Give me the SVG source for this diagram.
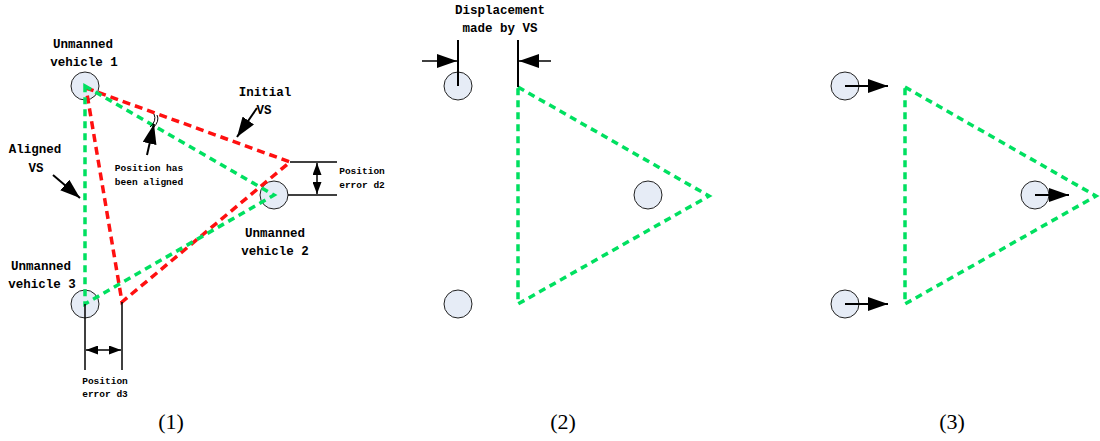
<svg xmlns="http://www.w3.org/2000/svg" width="1100" height="441" viewBox="0 0 1100 441">
<style>
.veh{fill:#e6ecf6;stroke:#222;stroke-width:1}
.g{fill:none;stroke:#00e060;stroke-width:3.5;stroke-dasharray:7 5}
.r{fill:none;stroke:#ff1010;stroke-width:3.5;stroke-dasharray:8 5}
.ln{fill:none;stroke:#000;stroke-width:1.5}
.aw{fill:none;stroke:#000;stroke-width:2}
.t{font-family:"Liberation Mono","DejaVu Sans Mono",monospace;font-weight:bold;font-size:12.5px;fill:#000;text-anchor:middle}
.s{font-family:"Liberation Mono","DejaVu Sans Mono",monospace;font-weight:bold;font-size:9.5px;fill:#000;text-anchor:middle}
.n{font-family:"Liberation Serif","DejaVu Serif",serif;font-size:22px;fill:#000;text-anchor:middle}
</style>
<defs>
<marker id="big" viewBox="0 0 20 14" refX="20" refY="7" markerWidth="20" markerHeight="14" markerUnits="userSpaceOnUse" orient="auto-start-reverse"><path d="M0,0 L20,7 L0,14 z" fill="#000"/></marker>
<marker id="sm" viewBox="0 0 12 9" refX="12" refY="4.5" markerWidth="12" markerHeight="9" markerUnits="userSpaceOnUse" orient="auto-start-reverse"><path d="M0,0 L12,4.5 L0,9 z" fill="#000"/></marker>
</defs>

<!-- Panel 1 vehicles -->
<g id="p1-vehicle1"><circle class="veh" cx="85" cy="86" r="14"/><text class="t" x="83" y="48">Unmanned</text><text class="t" x="84" y="66">vehicle 1</text></g>
<g id="p1-vehicle2"><circle class="veh" cx="274" cy="195" r="14"/><text class="t" x="275" y="237">Unmanned</text><text class="t" x="275" y="255">vehicle 2</text></g>
<g id="p1-vehicle3"><circle class="veh" cx="85" cy="304" r="14"/><text class="t" x="41" y="270">Unmanned</text><text class="t" x="42" y="288">vehicle 3</text></g>

<!-- Panel 2 vehicles -->
<g id="p2-vehicle1"><circle class="veh" cx="458" cy="86" r="14"/></g>
<g id="p2-vehicle2"><circle class="veh" cx="648" cy="195" r="14"/></g>
<g id="p2-vehicle3"><circle class="veh" cx="458" cy="304" r="14"/></g>

<!-- Panel 3 vehicles -->
<g id="p3-vehicle1"><circle class="veh" cx="845" cy="86" r="14"/></g>
<g id="p3-vehicle2"><circle class="veh" cx="1035" cy="195" r="14"/></g>
<g id="p3-vehicle3"><circle class="veh" cx="845" cy="304" r="14"/></g>

<g id="connectors">
<!-- Panel 1 triangles -->
<path class="r" d="M86,88 L290,162 L122,302 Z"/>
<path class="g" d="M85,86 L274,195 L85,304 Z"/>
<!-- aligned mark -->
<path d="M150,127 Q157,121 154,114" fill="none" stroke="#000" stroke-width="1"/>
<path d="M153,128 Q160,121 157,115" fill="none" stroke="#000" stroke-width="1"/>
<line class="aw" x1="147" y1="155" x2="154" y2="124" marker-end="url(#big)"/>
<!-- Initial VS arrow -->
<line class="aw" x1="257" y1="108" x2="237" y2="137" marker-end="url(#big)"/>
<!-- Aligned VS arrow -->
<line class="aw" x1="53" y1="175" x2="80" y2="198" marker-end="url(#big)"/>
<!-- d2 dimension -->
<line class="ln" x1="290" y1="162" x2="337" y2="162"/>
<line class="ln" x1="288" y1="195" x2="337" y2="195"/>
<line class="ln" x1="317" y1="163" x2="317" y2="194" marker-start="url(#sm)" marker-end="url(#sm)"/>
<!-- d3 dimension -->
<line class="ln" x1="85" y1="304" x2="85" y2="370"/>
<line class="ln" x1="122" y1="302" x2="122" y2="370"/>
<line class="ln" x1="86" y1="350" x2="121" y2="350" marker-start="url(#sm)" marker-end="url(#sm)"/>

<!-- Panel 2 -->
<path class="g" d="M518,87 L709,196 L518,304 Z"/>
<line class="aw" x1="458" y1="40" x2="458" y2="86"/>
<line class="aw" x1="518" y1="40" x2="518" y2="87"/>
<line class="ln" x1="422" y1="61" x2="457" y2="61" marker-end="url(#big)"/>
<line class="ln" x1="551" y1="61" x2="519" y2="61" marker-end="url(#big)"/>

<!-- Panel 3 -->
<path class="g" d="M905,87 L1096,196 L905,304 Z"/>
<line class="aw" x1="845" y1="86" x2="888" y2="86" marker-end="url(#big)"/>
<line class="aw" x1="1035" y1="195" x2="1069" y2="195" marker-end="url(#big)"/>
<line class="aw" x1="845" y1="304" x2="888" y2="304" marker-end="url(#big)"/>
</g>

<g id="labels">
<text class="t" x="265" y="96">Initial</text>
<text class="t" x="264" y="114">VS</text>
<text class="t" x="35" y="153">Aligned</text>
<text class="t" x="36" y="172">VS</text>
<text class="s" x="149" y="171">Position has</text>
<text class="s" x="149" y="185">been aligned</text>
<text class="s" x="362" y="174">Position</text>
<text class="s" x="362" y="188">error d2</text>
<text class="s" x="105" y="384">Position</text>
<text class="s" x="105" y="397">error d3</text>
<text class="t" x="500" y="14">Displacement</text>
<text class="t" x="500" y="32">made by VS</text>
<text class="n" x="171" y="429">(1)</text>
<text class="n" x="563" y="429">(2)</text>
<text class="n" x="952" y="429">(3)</text>
</g>
</svg>
